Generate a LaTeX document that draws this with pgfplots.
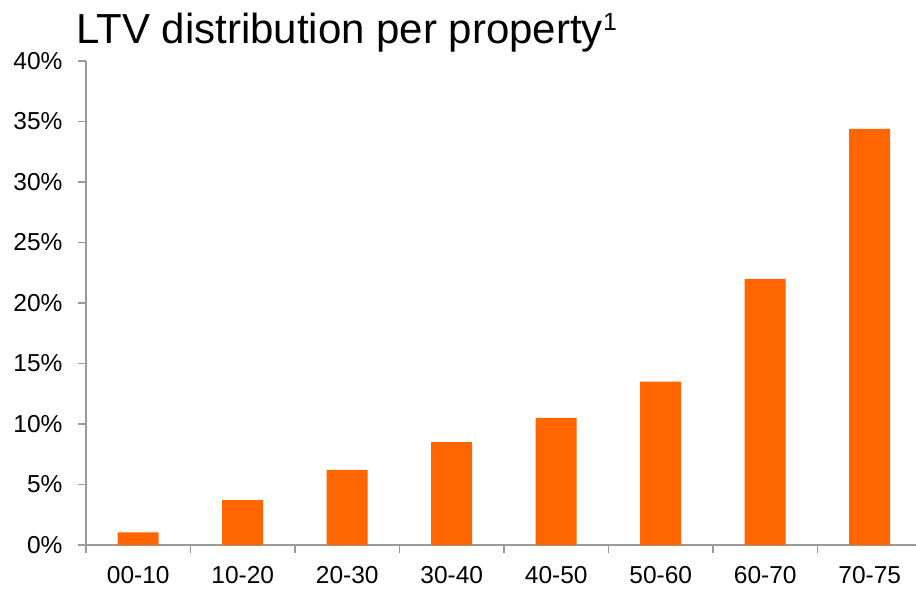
\documentclass[border=0pt]{standalone}
\usepackage{pgfplots}
\pgfplotsset{compat=1.18}
\usepackage{fontspec}
\setmainfont{Liberation Sans}
\definecolor{barorange}{HTML}{FF6600}
\definecolor{axgray}{HTML}{9A9A9A}
\begin{document}
\begin{tikzpicture}
\begin{axis}[
  at={(0,0)}, anchor=south west,
  scale only axis,
  width=830pt, height=484pt,
  xmin=-0.5, xmax=7.443,
  ymin=0, ymax=40,
  axis x line*=bottom, axis y line*=left,
  axis line style={-, draw=axgray, line width=1.8pt},
  xtick={0,1,2,3,4,5,6,7},
  xticklabels={00-10,10-20,20-30,30-40,40-50,50-60,60-70,70-75},
  minor xtick={-0.5,0.5,1.5,2.5,3.5,4.5,5.5,6.5},
  every major x tick/.append style={draw=none},
  ytick={0,5,10,15,20,25,30,35,40},
  yticklabels={0\%,5\%,10\%,15\%,20\%,25\%,30\%,35\%,40\%},
  tick align=outside,
  major tick length=8pt, minor tick length=8pt,
  tick style={draw=axgray, line width=1.8pt},
  ticklabel style={font=\fontsize{24.5}{28}\selectfont, text=black},
  yticklabel style={xshift=-12pt},
  xticklabel style={yshift=-10pt},
  clip=false,
]
\addplot[ybar, bar width=41pt, fill=barorange, draw=none] coordinates {
  (0,1.05) (1,3.7) (2,6.2) (3,8.5) (4,10.5) (5,13.5) (6,22.0) (7,34.4)
};
\node[anchor=base west, inner sep=0pt, font=\fontsize{42}{48}\selectfont]
  at (rel axis cs:0,1) [xshift=-10pt, yshift=17pt]
  {LTV distribution per property\raisebox{13pt}{\fontsize{25}{28}\selectfont 1}};
\end{axis}
\pgfresetboundingbox
\path[use as bounding box] (-86pt,-47pt) rectangle (830pt,545pt);
\end{tikzpicture}
\end{document}
